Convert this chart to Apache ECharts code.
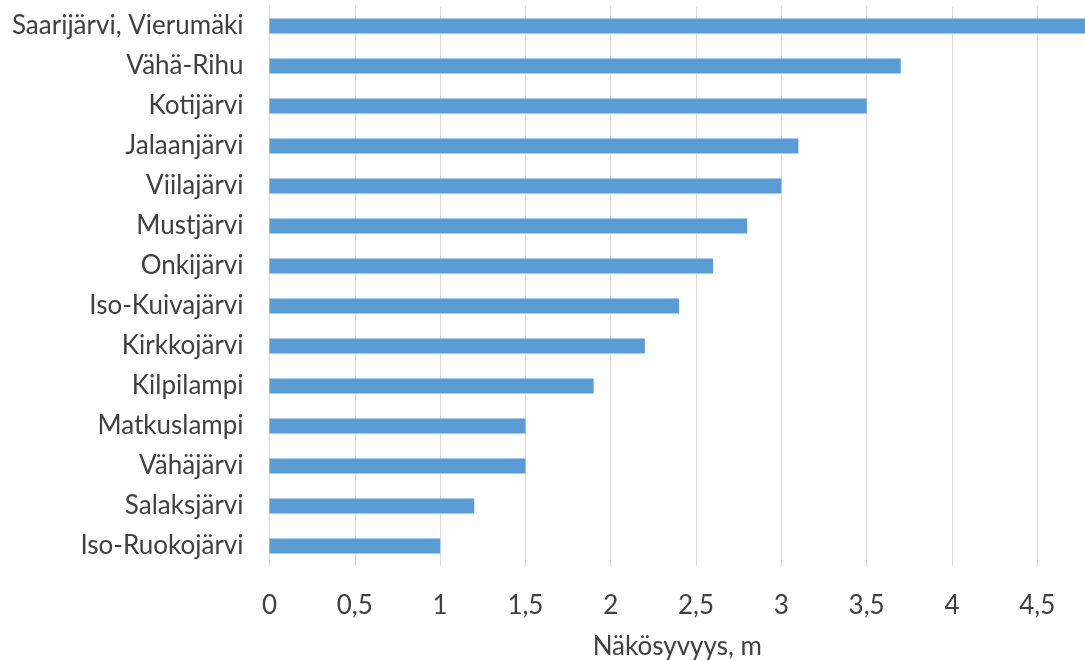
<!DOCTYPE html>
<html>
<head>
<meta charset="utf-8">
<script src="https://cdn.jsdelivr.net/npm/echarts@6/dist/echarts.min.js"></script>
<style>
  html, body { margin: 0; padding: 0; background: #ffffff; }
  #chart { width: 1085px; height: 660px; }
</style>
</head>
<body>
<div id="chart"></div>
<script>
// Lakes, top to bottom
const lakes = [
  'Saarijärvi, Vierumäki', 'Vähä-Rihu', 'Kotijärvi', 'Jalaanjärvi', 'Viilajärvi',
  'Mustjärvi', 'Onkijärvi', 'Iso-Kuivajärvi', 'Kirkkojärvi', 'Kilpilampi',
  'Matkuslampi', 'Vähäjärvi', 'Salaksjärvi', 'Iso-Ruokojärvi'
];
// Secchi depth (m), same order
const depth = [4.8, 3.7, 3.5, 3.1, 3.0, 2.8, 2.6, 2.4, 2.2, 1.9, 1.5, 1.5, 1.2, 1.0];
const axisTitle = 'Näkösyvyys, m';

const font = 'Lato, "Open Sans", sans-serif';
const textColor = '#404040';

const chart = echarts.init(document.getElementById('chart'));
chart.setOption({
  animation: false,
  grid: {
    left: 269.5, right: 0, top: 6, bottom: 94,
    containLabel: false,
    outerBoundsMode: 'none'
  },
  xAxis: {
    type: 'value',
    min: 0,
    max: 4.78,
    interval: 0.5,
    name: axisTitle,
    nameLocation: 'middle',
    nameGap: 68,
    nameTextStyle: { fontFamily: font, fontSize: 26, color: textColor },
    axisLine: { show: false },
    axisTick: { show: false },
    axisLabel: {
      margin: 27,
      fontFamily: font,
      fontSize: 26,
      color: textColor,
      showMaxLabel: false,
      formatter: v => String(v).replace('.', ',')
    },
    splitLine: { show: true, lineStyle: { color: '#d9d9d9', width: 1 } }
  },
  yAxis: {
    type: 'category',
    data: lakes,
    inverse: true,
    axisLine: { show: true, lineStyle: { color: '#d9d9d9' } },
    axisTick: { show: false },
    axisLabel: { margin: 26, fontFamily: font, fontSize: 26, color: textColor }
  },
  series: [{
    type: 'bar',
    data: depth,
    barWidth: 15,
    clip: true,
    itemStyle: { color: '#5b9bd5' }
  }]
});
</script>
</body>
</html>
